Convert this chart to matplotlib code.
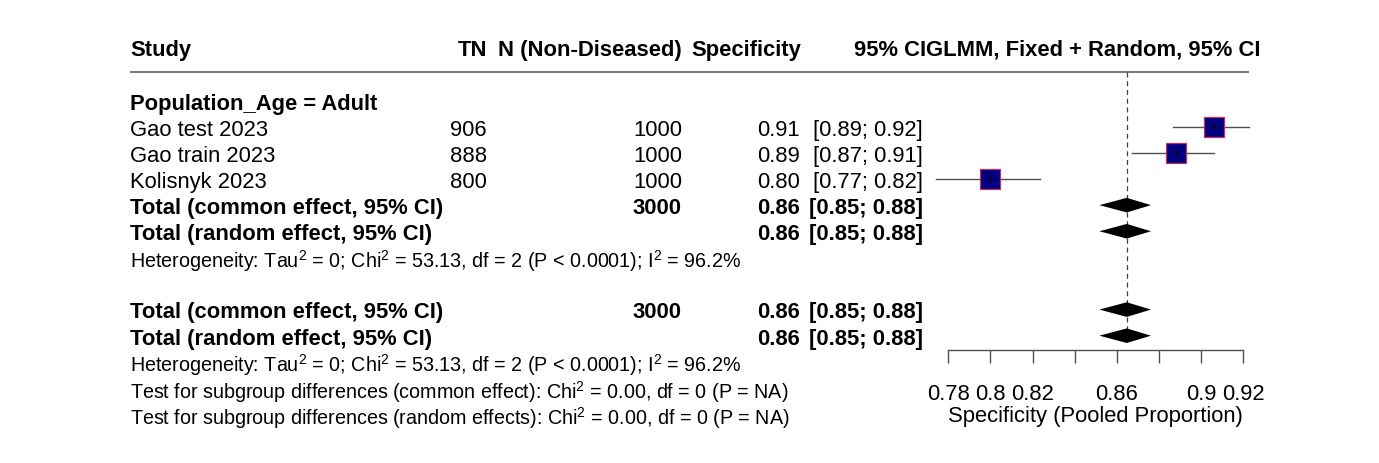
import matplotlib
matplotlib.use("Agg")
import matplotlib.pyplot as plt

plt.rcParams['font.family'] = ['Liberation Sans', 'DejaVu Sans']
plt.rcParams['mathtext.fontset'] = 'custom'
plt.rcParams['mathtext.rm'] = 'Liberation Sans'
plt.rcParams['mathtext.it'] = 'Liberation Sans:italic'
plt.rcParams['mathtext.bf'] = 'Liberation Sans:bold'
plt.rcParams['mathtext.default'] = 'regular'

# ---------------- data ----------------
subgroup_label = "Population_Age = Adult"
studies = ["Gao test 2023", "Gao train 2023", "Kolisnyk 2023"]
tn = [906, 888, 800]
n_nondiseased = [1000, 1000, 1000]
spec = [0.906, 0.888, 0.800]
ci_lo = [0.8868, 0.8673, 0.7741]
ci_hi = [0.9226, 0.9062, 0.8235]

pooled_total_n = 3000
common_est, common_lo, common_hi = 0.8647, 0.8517, 0.8762
random_est, random_lo, random_hi = 0.8647, 0.8517, 0.8762

het_tau2 = "0"
het_chi2 = "53.13"
het_df = "2"
het_p = "< 0.0001"
het_i2 = "96.2%"
sub_chi2 = "0.00"
sub_df = "0"
sub_p = "NA"

xticks = [0.78, 0.80, 0.82, 0.84, 0.86, 0.88, 0.90, 0.92]
xticklabels = ["0.78", "0.8", "0.82", "", "0.86", "", "0.9", "0.92"]
xlabel = "Specificity (Pooled Proportion)"

# ---------------- layout ----------------
W, H, DPI = 1379, 464, 100
ROW0, ROWH = 101.7, 26.11
ytop = (0 - ROW0) / ROWH
ybot = (H - ROW0) / ROWH
FS = 15.8
FS_SMALL = FS * 0.9
BASE = 0.30        # baseline offset (rows) for main text
BASE_SMALL = 0.38  # baseline offset (rows) for heterogeneity / test lines

fig = plt.figure(figsize=(W / DPI, H / DPI), dpi=DPI)
ax0 = fig.add_axes([0, 0, 1, 1])
ax0.set_xlim(0, W)
ax0.set_ylim(ybot, ytop)
ax0.axis('off')

def txt(x, row, s, ha='left', bold=False, small=False):
    ax0.text(x, row + (BASE_SMALL if small else BASE), s, ha=ha, va='baseline',
             fontsize=FS_SMALL if small else FS,
             fontweight='bold' if bold else 'normal', color='black')

X_STUDY, X_TN, X_N, X_EST, X_CI = 130, 487, 682, 800, 923

# headers
hr = -2.06
txt(X_STUDY, hr, "Study", bold=True)
txt(X_TN, hr, "TN", ha='right', bold=True)
txt(X_N, hr, "N (Non-Diseased)", ha='right', bold=True)
txt(801, hr, "Specificity", ha='right', bold=True)
txt(926, hr, "95% CI", ha='right', bold=True)
txt(926, hr, "GLMM, Fixed + Random, 95% CI", ha='left', bold=True)
ax0.plot([130, 1249], [-1.11, -1.11], color='#606060', lw=1.2, solid_capstyle='butt')

# subgroup
txt(X_STUDY, 0, subgroup_label, bold=True)
for i, s in enumerate(studies):
    r = i + 1
    txt(X_STUDY, r, s)
    txt(X_TN, r, str(tn[i]), ha='right')
    txt(X_N, r, str(n_nondiseased[i]), ha='right')
    txt(X_EST, r, f"{spec[i]:.2f}", ha='right')
    txt(X_CI, r, f"[{ci_lo[i]:.2f}; {ci_hi[i]:.2f}]", ha='right')

def pooled_rows(r_common, r_random):
    txt(X_STUDY, r_common, "Total (common effect, 95% CI)", bold=True)
    txt(X_N, r_common, str(pooled_total_n), ha='right', bold=True)
    txt(X_EST, r_common, f"{common_est:.2f}", ha='right', bold=True)
    txt(X_CI, r_common, f"[{common_lo:.2f}; {common_hi:.2f}]", ha='right', bold=True)
    txt(X_STUDY, r_random, "Total (random effect, 95% CI)", bold=True)
    txt(X_EST, r_random, f"{random_est:.2f}", ha='right', bold=True)
    txt(X_CI, r_random, f"[{random_lo:.2f}; {random_hi:.2f}]", ha='right', bold=True)

het_text = (f"Heterogeneity: Tau$^{{2}}$ = {het_tau2}; Chi$^{{2}}$ = {het_chi2}, "
            f"df = {het_df} (P {het_p}); I$^{{2}}$ = {het_i2}")

pooled_rows(4, 5)
txt(X_STUDY, 6, het_text, small=True)
pooled_rows(8, 9)
txt(X_STUDY, 9.96, het_text, small=True)
txt(X_STUDY, 11.0, f"Test for subgroup differences (common effect): Chi$^{{2}}$ = {sub_chi2}, df = {sub_df} (P = {sub_p})", small=True)
txt(X_STUDY, 12.0, f"Test for subgroup differences (random effects): Chi$^{{2}}$ = {sub_chi2}, df = {sub_df} (P = {sub_p})", small=True)

# ---------------- forest panel ----------------
x0px, x1px = 948.3, 1243.3
ax = fig.add_axes([x0px / W, 0, (x1px - x0px) / W, 1])
ax.set_xlim(xticks[0], xticks[-1])
ax.set_ylim(ybot, ytop)
ax.patch.set_alpha(0)
for sp in ['top', 'left', 'right']:
    ax.spines[sp].set_visible(False)
ax.spines['bottom'].set_position(('data', 9.55))
ax.spines['bottom'].set_color('#505050')
ax.spines['bottom'].set_linewidth(1.0)
ax.set_yticks([])
ax.set_xticks(xticks)
ax.set_xticklabels(xticklabels, fontsize=FS)
ax.tick_params(axis='x', direction='out', length=9.4, width=1.0, color='#505050', pad=14)
ax.set_xlabel(xlabel, fontsize=FS, labelpad=1)

# reference line at pooled estimate
ax.plot([common_est, common_est], [-1.11, 9.27], color='#404040', lw=0.9,
        linestyle=(0, (4, 3)), zorder=1)

rows = [1, 2, 3]
for i, r in enumerate(rows):
    ax.plot([ci_lo[i], ci_hi[i]], [r, r], color='#505050', lw=1.0, zorder=2, clip_on=False)
ax.plot(spec, rows, linestyle='none', marker='s', markersize=14.2,
        markerfacecolor='#000080', markeredgecolor='#c0305a', markeredgewidth=0.9,
        zorder=3, clip_on=False)
ax.plot(spec, rows, linestyle='none', marker='+', markersize=5, color='black',
        markeredgewidth=0.7, zorder=4, clip_on=False)

def diamond(est, lo, hi, r, h=0.28):
    ax.fill([lo, est, hi, est], [r, r - h, r, r + h], color='black', zorder=3, lw=0)

diamond(common_est, common_lo, common_hi, 4)
diamond(random_est, random_lo, random_hi, 5)
diamond(common_est, common_lo, common_hi, 8)
diamond(random_est, random_lo, random_hi, 9)

fig.savefig("out.png", dpi=DPI)
